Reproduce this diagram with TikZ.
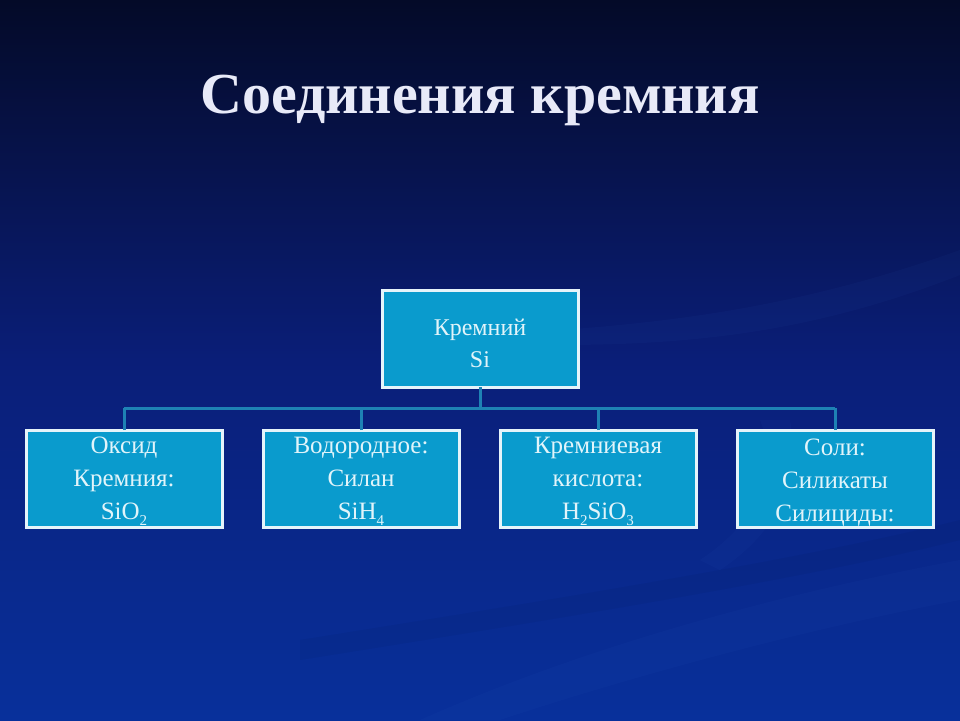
\documentclass[tikz,border=0pt]{standalone}
\usepackage{fontspec}
\setmainfont{Liberation Serif}
\definecolor{bgtop}{RGB}{4,10,40}
\definecolor{bgmid}{RGB}{10,30,120}
\definecolor{bgbot}{RGB}{8,48,155}
\definecolor{boxfill}{RGB}{10,155,205}
\definecolor{boxline}{RGB}{230,244,250}
\definecolor{conn}{RGB}{30,130,180}
\definecolor{txt}{RGB}{225,244,250}
\definecolor{titlec}{RGB}{232,234,248}
\definecolor{wave}{RGB}{60,110,210}
\newcommand{\chemsub}[1]{\raisebox{-6pt}{\fontsize{15}{15}\selectfont #1}}
\begin{document}
\begin{tikzpicture}[x=1pt,y=-1pt,
  box/.style={draw=boxline,line width=3pt,fill=boxfill,minimum width=196pt,minimum height=97pt,inner sep=0pt,outer sep=0pt,anchor=center},
  lbl/.style={text=txt,align=center,font=\fontsize{25}{33}\selectfont,anchor=base},
  link/.style={draw=conn,line width=3pt}]
\useasboundingbox (0,0) rectangle (960,720);
% background
\shade[top color=bgtop,bottom color=bgmid] (0,0) rectangle (960,360);
\shade[top color=bgmid,bottom color=bgbot] (0,360) rectangle (960,720);
% faint waves
\fill[wave,opacity=0.05] (560,330) .. controls (700,320) and (820,300) .. (960,250) -- (960,275) .. controls (820,330) and (700,345) .. (560,345) -- cycle;
\fill[wave,opacity=0.05] (700,560) .. controls (760,520) and (780,470) .. (760,420) -- (790,420) .. controls (800,480) and (780,530) .. (720,570) -- cycle;
\fill[wave,opacity=0.05] (420,720) .. controls (600,640) and (800,590) .. (960,560) -- (960,600) .. controls (800,630) and (620,680) .. (500,720) -- cycle;
\fill[black,opacity=0.04] (300,640) .. controls (550,600) and (800,560) .. (960,520) -- (960,540) .. controls (800,580) and (550,620) .. (300,660) -- cycle;
% title
\node[text=titlec,font=\fontsize{58}{60}\selectfont\bfseries,anchor=base] (title) at (480,113) {Соединения кремния};
% boxes
\node[box] (top) at (480,338.5) {};
\node[box] (b1) at (124,478.5) {};
\node[box] (b2) at (361,478.5) {};
\node[box] (b3) at (598,478.5) {};
\node[box] (b4) at (835,478.5) {};
% connectors
\coordinate (j) at (480,408);
\coordinate (j1) at (124,408);
\coordinate (j4) at (835,408);
\draw[link] (top.south) -- (top.south |- j);
\draw[link] (j1) -- (j4);
\draw[link] (b1.north) -- (b1.north |- j);
\draw[link] (b2.north) -- (b2.north |- j);
\draw[link] (b3.north) -- (b3.north |- j);
\draw[link] (b4.north) -- (b4.north |- j);
% labels
\node[lbl,font=\fontsize{24}{32}\selectfont] (t0) at (480,367) {Кремний\\Si};
\node[lbl] (t1) at (124,519) {Оксид\\Кремния:\\SiO\chemsub{2}};
\node[lbl] (t2) at (361,519) {Водородное:\\Силан\\SiH\chemsub{4}};
\node[lbl] (t3) at (598,519) {Кремниевая\\кислота:\\H\chemsub{2}SiO\chemsub{3}};
\node[lbl] (t4) at (835,521) {Соли:\\Силикаты\\Силициды:};
\end{tikzpicture}
\end{document}
